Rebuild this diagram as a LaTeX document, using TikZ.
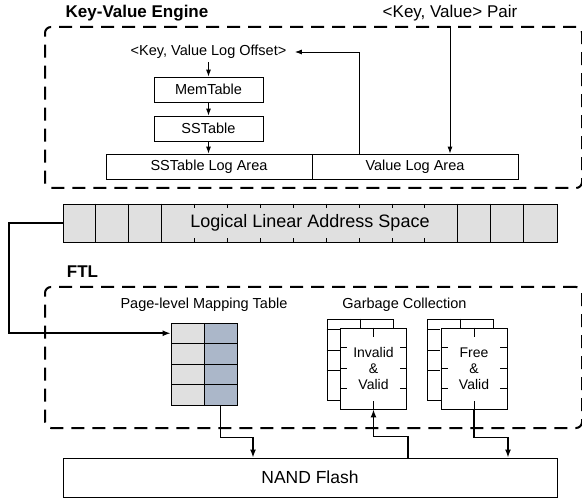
\documentclass[tikz,border=0pt]{standalone}
\usepackage{fontspec}
\setmainfont{Liberation Sans}
\usetikzlibrary{arrows.meta}

\definecolor{cellgray}{RGB}{224,224,224}
\definecolor{cellblue}{RGB}{171,183,201}

\tikzset{
	dashframe/.style={draw, line width=2pt, dash pattern=on 13pt off 8pt, rounded corners=6pt, minimum width=537pt},
	box/.style={draw, line width=0.8pt, fill=white, inner sep=0pt},
	title/.style={font=\fontsize{17}{20}\selectfont\bfseries},
	lbl/.style={font=\fontsize{14.5}{17}\selectfont},
	flow/.style={-{Latex[length=7pt,width=5pt]}, line width=0.9pt},
	bigflow/.style={-{Latex[length=8pt,width=6pt]}, line width=1.7pt},
}

\begin{document}
\begin{tikzpicture}[x=1pt, y=-1pt]
			\useasboundingbox (0,0) rectangle (582,500);
			% key-value engine
			\node (kvtitle) at (137,13) [title] {Key-Value Engine};
			\node (pair) at (450,13) [font=\fontsize{17}{20}\selectfont] {<Key, Value> Pair};
			\node (kvengine) at (313.5,107.5) [dashframe, minimum height=161pt] {};
			\node (offset) at (208.5,52) [lbl] {<Key, Value Log Offset>};
			\node (memtable) at (208.5,89.5) [box, lbl, minimum width=109pt, minimum height=25pt] {MemTable};
			\node (sstable) at (208.5,128.5) [box, lbl, minimum width=109pt, minimum height=25pt] {SSTable};
			\node (sslog) at (209,166.5) [box, lbl, minimum width=206pt, minimum height=25pt] {SSTable Log Area};
			\node (vlog) at (415,166.5) [box, lbl, minimum width=206pt, minimum height=25pt] {Value Log Area};
			
			\draw [flow] (offset) -- (memtable);
			\draw [flow] (memtable) -- (sstable);
			\draw [flow] (sstable) -- (sstable |- sslog.north);
			\draw [flow] ([xshift=-56pt]vlog.north) |- ([xshift=5pt]offset.east);
			\draw [flow] (pair.south |- kvengine.north) -- (pair.south |- vlog.north);
			
			% address space
			\node (las) at (310,223) [box, fill=cellgray, minimum width=494pt, minimum height=38pt, font=\fontsize{18}{21}\selectfont] {Logical Linear Address Space};
			\foreach \i in {1,2,3,12,13,14}
				\draw [line width=0.8pt] ([xshift=\i*32.933pt]las.north west) -- ([xshift=\i*32.933pt]las.south west);
			\foreach \i in {4,...,11} {
				\draw [line width=0.8pt] ([xshift=\i*32.933pt]las.north west) -- ++(0,4);
				\draw [line width=0.8pt] ([xshift=\i*32.933pt]las.south west) -- ++(0,-4);
			}
			
			% ftl
			\node (ftltitle) at (82.5,272) [title] {FTL};
			\node (ftl) at (313.5,357.5) [dashframe, minimum height=141pt] {};
			\node (maptitle) at (204,305) [lbl] {Page-level Mapping Table};
			\node (gctitle) at (404.5,305) [lbl] {Garbage Collection};
			\foreach \r in {1,...,4} {
				\node (mapl\r) at (187.5,{312.75+\r*20.5}) [box, fill=cellgray, minimum width=33pt, minimum height=20.5pt] {};
				\node (mapr\r) at (220.5,{312.75+\r*20.5}) [box, fill=cellblue, minimum width=33pt, minimum height=20.5pt] {};
			}
			\foreach \n/\x/\txt in {1/373.5/Invalid, 2/474/Free} {
				\node (back\n) at ({\x-13.5},359.5) [box, minimum width=66pt, minimum height=81pt] {};
				\node (gc\n) at (\x,368.5) [box, minimum width=66pt, minimum height=81pt, align=center, font=\fontsize{14}{16}\selectfont] {\txt\\\&\\Valid};
				\draw [line width=0.8pt] (back\n.north) -- (back\n.north |- gc\n.north);
				\draw [line width=0.8pt] (gc\n.north) -- ++(0,9);
				\draw [line width=0.8pt] (gc\n.south) -- ++(0,-8);
				\foreach \y in {20,41,61} {
					\draw [line width=0.8pt] ([shift={(0,\y-9)}]back\n.north west) -- ++(13,0);
					\draw [line width=0.8pt] ([shift={(0,\y)}]gc\n.north west) -- ++(7,0);
					\draw [line width=0.8pt] ([shift={(0,\y)}]gc\n.north east) -- ++(-7,0);
				}
			}
			
			% flash
			\node (nand) at (310,477.5) [box, minimum width=494pt, minimum height=39pt, font=\fontsize{17.5}{20}\selectfont] {NAND Flash};
			
			\coordinate (bend) at (9,223);
			\draw [bigflow] (las.west) -- (bend) |- (mapl1.west);
			\draw [bigflow] (mapr4.south) -- ++(0,32) -| ([xshift=-57pt]nand.north);
			\draw [bigflow] ([xshift=98pt]nand.north) -- ++(0,-21) -| (gc1.south);
			\draw [bigflow] (gc2.south) -- ++(0,28) -| ([xshift=198pt]nand.north);
		\end{tikzpicture}
\end{document}
